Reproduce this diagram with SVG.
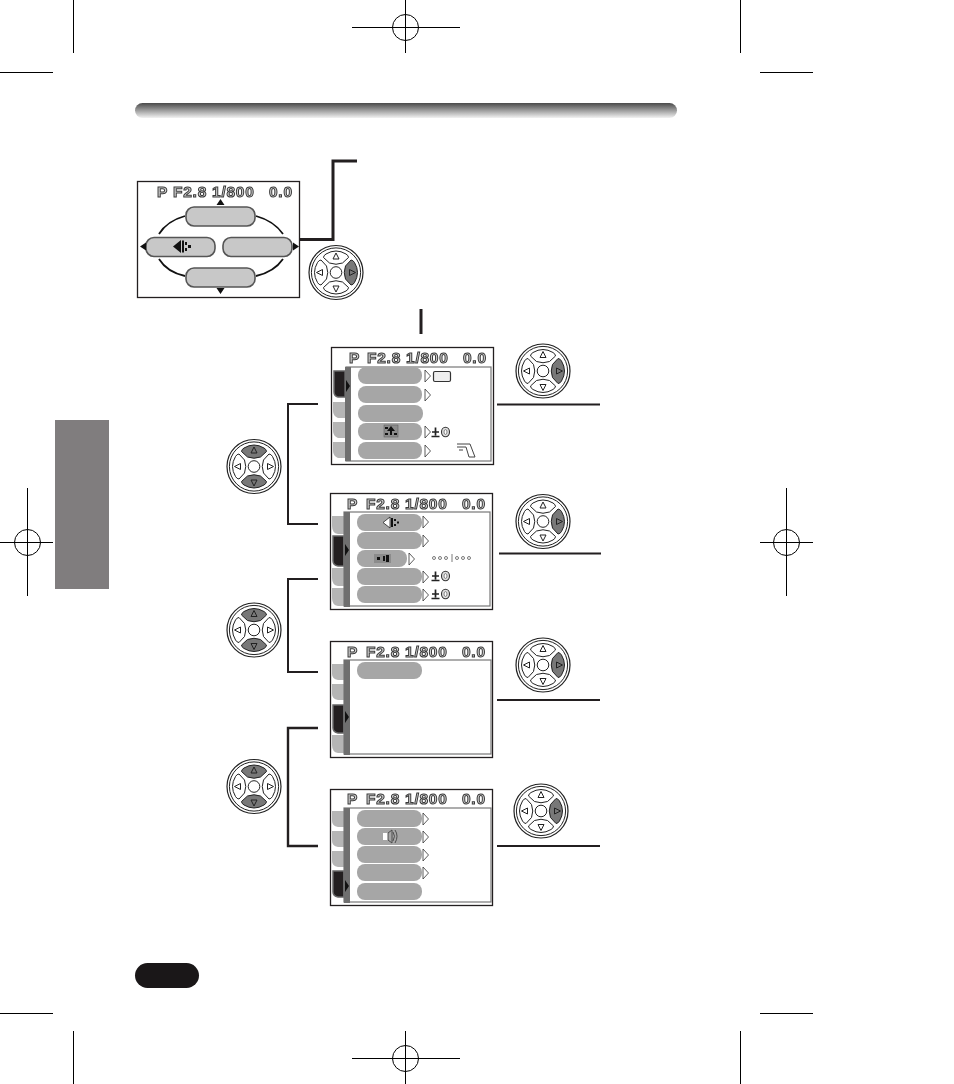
<svg xmlns="http://www.w3.org/2000/svg" width="954" height="1084" viewBox="0 0 954 1084">
<style>
.crop{fill:none;stroke:#000;stroke-width:1}
.con{fill:none;stroke:#231f20;stroke-width:2}
.scr{fill:#fff;stroke:#231f20;stroke-width:1.3}
.hud{font-family:"Liberation Sans",Arial,sans-serif;font-weight:700;font-size:15.5px;fill:#d0d0d0;stroke:#3a3a3a;stroke-width:1;letter-spacing:.75px;filter:url(#gray)}
.pill{fill:#a6a6a6;stroke:none}
.opt{fill:#c8c8c8;stroke:#555;stroke-width:1.6}
.tab{fill:#b5b5b5}
.active{fill:#231f20;stroke:#666;stroke-width:1.5}
.bar{fill:#6f6f6f}
.panel{fill:#fff;stroke:#777;stroke-width:1.2}
.ch{fill:#fff;stroke:#333;stroke-width:.8}
.arc{fill:none;stroke:#111;stroke-width:1.8}
.tri{fill:#111}
.dp{fill:#fff;stroke:#222;stroke-width:1}
.dg{fill:#787878;stroke:#222;stroke-width:1}
</style>
<defs>
<filter id="gray" x="-10%" y="-30%" width="120%" height="160%"><feOffset dx="0" dy="0"/></filter>
<linearGradient id="hdr" x1="0" y1="0" x2="0" y2="1"><stop offset="0" stop-color="#4a4a4a"/><stop offset="1" stop-color="#f2f2f2"/></linearGradient>
<g id="dial">
<circle r="27" fill="#fff" stroke="#222" stroke-width="1.2"/>
<circle r="24.600" fill="#fff" stroke="#222" stroke-width="1"/>
<circle r="5.800" fill="#fff" stroke="#222" stroke-width="1"/>
</g>
<path id="b" d="M-12.500-15Q-12.500-17-10-18.500Q0-24.500 10-18.500Q12.500-17 12.500-15L6.500-9.500Q0-7-6.500-9.500Z"/>
<path id="g" d="M0-19.500L3-13.500H-3Z" fill="none" stroke="#222" stroke-width="1"/>
<g id="dialR"><use href="#dial"/><use href="#b" class="dp"/><use href="#b" class="dp" transform="rotate(180)"/><use href="#b" class="dp" transform="rotate(-90)"/><use href="#b" class="dg" transform="rotate(90)"/><use href="#g"/><use href="#g" transform="rotate(180)"/><use href="#g" transform="rotate(-90)"/><use href="#g" transform="rotate(90)"/></g>
<g id="dialV"><use href="#dial"/><use href="#b" class="dg"/><use href="#b" class="dg" transform="rotate(180)"/><use href="#b" class="dp" transform="rotate(-90)"/><use href="#b" class="dp" transform="rotate(90)"/><use href="#g"/><use href="#g" transform="rotate(180)"/><use href="#g" transform="rotate(-90)"/><use href="#g" transform="rotate(90)"/></g>
<path id="chev" class="ch" d="M0 0L5.500 6L0 12Z"/>
<g id="pm"><path d="M1 5H8M4.500 0.500V8.500M0.500 9.500H8.500" fill="none" stroke="#222" stroke-width="1.700"/><ellipse cx="14.500" cy="5" rx="4" ry="4.700" fill="#ddd" stroke="#333" stroke-width="1.100"/><ellipse cx="14.500" cy="5" rx="1.500" ry="2.400" fill="#fff" stroke="#555" stroke-width=".7"/></g>
</defs>

<g id="marks" class="crop">
<path d="M73.500 0V53M0 72.500H53M740.500 0V53M760 72.500H813M73.500 1031V1084M0 1013.500H53M740.500 1031V1084M760 1013.500H813"/>
<path d="M352 27.500H460M405.500 0V53M352 1058.500H460M405.500 1031V1084M27.500 488V596M0 542.500H53M786.500 488V596M760 542.500H813"/>
<circle cx="405.500" cy="27.500" r="13"/><circle cx="405.500" cy="1058.500" r="13"/><circle cx="27.500" cy="542.500" r="13"/><circle cx="786.500" cy="542.500" r="13"/>
</g>

<rect id="header" x="135" y="103" width="542" height="15" rx="7.500" fill="url(#hdr)"/>
<rect id="sidetab" x="55" y="420" width="54" height="169" fill="#807d7e"/>
<rect id="pagepill" x="135" y="963" width="64" height="25" rx="12.500" fill="#1a1718"/>

<g id="connectors">
<path class="con" style="stroke-width:3" d="M292 239.500H333V161H357"/>
<path class="con" style="stroke-width:3" d="M421 309V334"/>
<path class="con" d="M318 404H288V524H318M318 579H288V672H318"/>
<path class="con" style="stroke-width:2.400" d="M318 728H288V846H318"/>
<path class="con" d="M497 404.500H600M499 553.500H601M497 700H600M497 846H600"/>
</g>

<g id="mode-screen">
<rect class="scr" x="137.500" y="181.500" width="162" height="116"/>
<text class="hud" x="157" y="197">P</text><text class="hud" x="173" y="197">F2.8 1/800</text><text class="hud" x="269" y="197">0.0</text>
<path class="arc" d="M185 216Q167 221 159 234M256 216Q274 221 283 234M159 259Q167 272 185 276M256 276Q274 272 283 259"/>
<rect class="opt" x="186" y="207" width="69" height="19" rx="8"/>
<rect class="opt" x="146" y="237.500" width="69" height="19" rx="8"/>
<rect class="opt" x="223" y="237.500" width="69" height="19" rx="8"/>
<rect class="opt" x="186" y="268" width="69" height="19" rx="8"/>
<path class="tri" d="M220.500 199L224.500 205H216.500ZM220.500 294L224.500 288H216.500ZM140 246.500L146 242.500V250.500ZM299 246.500L293 242.500V250.500Z"/>
<path class="tri" d="M173 246.500L181 240V253ZM182 240.500H184V252.500H182ZM185 242H187V245H185ZM185 248H187V251H185ZM188 245H191V248H188Z"/>
</g>
<use id="dial-top" href="#dialR" x="336" y="272.500"/>

<g id="screen-1">
<rect class="scr" x="331.500" y="347.500" width="162" height="117"/>
<text class="hud" x="349" y="363">P</text><text class="hud" x="367" y="363">F2.8 1/800</text><text class="hud" x="463" y="363">0.0</text>
<path class="tab" d="M333 402H345V418H338Q333 416 333 411ZM333 422H345V438H338Q333 436 333 431ZM333 442H345V458H338Q333 456 333 451Z"/>
<path class="active" d="M334 371H345V397H338Q334 396 334 392Z"/>
<rect class="panel" x="346" y="367" width="145" height="94"/>
<rect class="bar" x="345" y="367" width="6" height="94"/>
<path class="tri" d="M346 380L350 386L346 392Z"/>
<rect class="pill" x="358" y="367" width="64" height="17" rx="8"/><rect class="pill" x="358" y="386" width="64" height="17" rx="8"/><rect class="pill" x="358" y="405" width="65" height="17" rx="8"/><rect class="pill" x="358" y="423" width="64" height="17" rx="8"/><rect class="pill" x="358" y="442" width="64" height="17" rx="8"/>
<rect x="384" y="425" width="14" height="12" fill="#8c8c8c" stroke="#555" stroke-width=".5"/><path d="M391 426L395 431H387ZM390 431H392V435H390ZM385 427H388V429H385ZM385 433H388V435H385ZM394 433H397V435H394Z" fill="#111"/>
<use href="#chev" x="425" y="370"/><use href="#chev" x="425" y="389"/><use href="#chev" x="425" y="426"/><use href="#chev" x="425" y="445"/>
<rect x="433.500" y="371.500" width="17" height="10" rx="1.500" fill="#eee" stroke="#333" stroke-width="1.200"/>
<use href="#pm" x="431" y="427"/>
<path d="M457 444H470L475 457M457 447H466L469 457H475M459 450H463" fill="none" stroke="#444" stroke-width="1"/>
</g>
<use id="dial-1" href="#dialR" x="543" y="371"/>

<g id="screen-2">
<rect class="scr" x="330.500" y="493.500" width="162" height="116"/>
<text class="hud" x="347" y="509">P</text><text class="hud" x="366" y="509">F2.8 1/800</text><text class="hud" x="462" y="509">0.0</text>
<path class="tab" d="M332 516H344V534H338Q332 533 332 526ZM332 568H344V586H338Q332 585 332 578ZM332 588H344V606H338Q332 605 332 598Z"/>
<path class="active" d="M333 536H344V566H338Q333 565 333 561Z"/>
<rect class="panel" x="344" y="512" width="146" height="94"/>
<rect class="bar" x="344" y="512" width="6" height="95"/>
<path class="tri" d="M345 544L349 550L345 556Z"/>
<rect class="pill" x="357" y="514" width="65" height="17" rx="8"/><rect class="pill" x="357" y="532" width="65" height="17" rx="8"/><rect class="pill" x="357" y="550" width="50" height="17" rx="8"/><rect class="pill" x="357" y="568" width="65" height="17" rx="8"/><rect class="pill" x="357" y="586" width="65" height="17" rx="8"/>
<path d="M383 522.500L390 517V528Z" fill="#fff" stroke="#222" stroke-width=".8"/><path d="M391 518H393V527H391ZM394 519H396V521H394ZM394 524H396V526H394ZM397 521.500H399V523.500H397Z" fill="#111"/>
<rect x="374" y="554" width="17" height="9" fill="#8c8c8c"/><path d="M377 557H380V560H377ZM383 556H385V561H383ZM386 555H389V562H386Z" fill="#111"/>
<use href="#chev" x="423" y="516"/><use href="#chev" x="423" y="535"/><use href="#chev" x="409" y="553"/><use href="#chev" x="423" y="571"/><use href="#chev" x="423" y="589"/>
<use href="#pm" x="431" y="571"/><use href="#pm" x="431" y="589"/>
<g fill="none" stroke="#444" stroke-width=".7"><circle cx="434" cy="558" r="1.500"/><circle cx="440" cy="558" r="1.500"/><circle cx="446" cy="558" r="1.500"/><path d="M452 554V562"/><circle cx="457" cy="558" r="1.500"/><circle cx="463" cy="558" r="1.500"/><circle cx="469" cy="558" r="1.500"/></g>
</g>
<use id="dial-2" href="#dialR" x="543" y="521.500"/>

<g id="screen-3">
<rect class="scr" x="330.500" y="641.500" width="162" height="116"/>
<text class="hud" x="347" y="657">P</text><text class="hud" x="366" y="657">F2.8 1/800</text><text class="hud" x="462" y="657">0.0</text>
<path class="tab" d="M332 664H344V680H338Q332 679 332 674ZM332 684H344V700H338Q332 699 332 694ZM332 735H344V753H338Q332 752 332 745Z"/>
<path class="active" d="M333 705H344V733H338Q333 732 333 728Z"/>
<rect class="panel" x="344" y="660" width="147" height="94"/>
<rect class="bar" x="344" y="660" width="6" height="95"/>
<path class="tri" d="M345 711L349 717L345 723Z"/>
<rect class="pill" x="357" y="662" width="65" height="17" rx="8"/>
</g>
<use id="dial-3" href="#dialR" x="543" y="665"/>

<g id="screen-4">
<rect class="scr" x="330.500" y="789.500" width="162" height="116"/>
<text class="hud" x="347" y="804">P</text><text class="hud" x="366" y="804">F2.8 1/800</text><text class="hud" x="462" y="804">0.0</text>
<path class="tab" d="M332 811H344V827H338Q332 826 332 821ZM332 831H344V847H338Q332 846 332 841ZM332 851H344V867H338Q332 866 332 861Z"/>
<path class="active" d="M333 871H344V897H338Q333 896 333 892Z"/>
<rect class="panel" x="344" y="808" width="147" height="94"/>
<rect class="bar" x="344" y="808" width="6" height="95"/>
<path class="tri" d="M345 880L349 886L345 892Z"/>
<rect class="pill" x="357" y="810" width="65" height="17" rx="8"/><rect class="pill" x="357" y="828" width="65" height="17" rx="8"/><rect class="pill" x="357" y="846" width="65" height="17" rx="8"/><rect class="pill" x="357" y="864" width="65" height="17" rx="8"/><rect class="pill" x="357" y="883" width="65" height="17" rx="8"/>
<path d="M383 833H388V840H383Z" fill="#fff"/><path d="M388 833L392 830V843L388 840ZM393 832Q396 836 393 841M395 830Q399 836 395 843" fill="none" stroke="#444" stroke-width=".9"/>
<use href="#chev" x="423" y="813"/><use href="#chev" x="423" y="831"/><use href="#chev" x="423" y="849"/><use href="#chev" x="423" y="867"/>
</g>
<use id="dial-4" href="#dialR" x="541" y="811"/>

<use id="dial-l1" href="#dialV" x="254" y="466.500"/>
<use id="dial-l2" href="#dialV" x="254" y="630"/>
<use id="dial-l3" href="#dialV" x="254" y="786.500"/>
</svg>
